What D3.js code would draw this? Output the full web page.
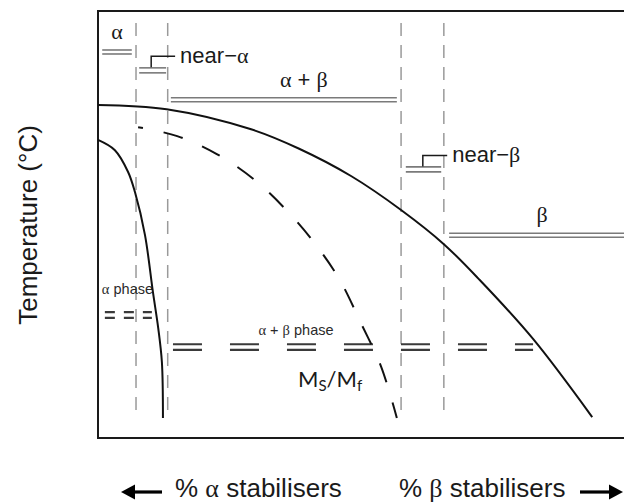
<!DOCTYPE html>
<html>
<head>
<meta charset="utf-8">
<script src="https://cdn.jsdelivr.net/npm/d3@7"></script>
<style>
  body { margin: 0; background: #fff; }
  svg { display: block; }
</style>
</head>
<body>
<svg id="chart" width="624" height="504"></svg>
<script>
// Composition axis: 0 = pure α-stabilised, 100 = heavily β-stabilised (relative units)
// Temperature axis: relative units, 0 = room temperature, 100 = top of frame

// β transus (upper solid curve)
const betaTransusX = [0, 13, 29, 38, 48, 57.4, 65.5, 72.3, 82.4, 93.6];
const betaTransusT = [78, 77.0, 72.3, 67.8, 61.3, 53.4, 45.4, 37.0, 23.2, 4.9];

// α transus (left solid curve)
const alphaTransusX = [0, 3.2, 5.7, 7.0, 8.9, 10.4, 11.4, 12.1, 12.3];
const alphaTransusT = [69.8, 67.4, 62.3, 57.6, 47.5, 34.2, 25.8, 17.8, 4.7];

// martensite start / finish (dashed curve)
const msMfX = [7.6, 15.0, 22.5, 29.7, 35.8, 41.3, 45.8, 49.8, 53.6, 56.6];
const msMfT = [72.8, 70.7, 66.5, 60.4, 53.2, 45.2, 37.0, 26.9, 16.8, 4.7];

// alloy class boundaries (grey dashed verticals)
const classBoundaries = [7.2, 13.2, 57.4, 65.5];
const boundaryTop = 97.2;
const boundaryBottom = 4.7;

// alloy class ranges (grey double bars)
const classNames = ["α", "near−α", "α + β", "near−β", "β"];
const classStart = [0.8, 7.8, 13.8, 58.3, 66.5];
const classEnd   = [6.4, 12.9, 56.6, 65.0, 100];
const classLevel = [90.4, 86.1, 79.2, 62.9, 47.5];

// phases present at low temperature (dashed double bars)
const phaseNames = ["α phase", "α + β phase"];
const phaseStart = [1.3, 14.2];
const phaseEnd   = [10.2, 82.4];
const phaseLevel = [28.8, 21.3];

// axis titles
const yTitle = "Temperature (°C)";
const xTitleLeft = "% α stabilisers";
const xTitleRight = "% β stabilisers";

// ---------------------------------------------------------------
const svg = d3.select("#chart");
const W = 624, H = 504;
const frame = { left: 98, top: 11, right: 626, bottom: 438 };

const x = d3.scaleLinear().domain([0, 100]).range([frame.left, frame.right]);
const y = d3.scaleLinear().domain([0, 100]).range([frame.bottom, frame.top]);

const SANS = "'Liberation Sans', Arial, Helvetica, sans-serif";
const SERIF = "'Liberation Serif', 'Times New Roman', serif";
const INK = "#1a1a1a";

// writes a string into a text node, setting Greek letters in a serif face
function richText(sel, str) {
  const parts = str.split(/([αβ])/).filter(s => s.length);
  parts.forEach(p => {
    const t = sel.append("tspan").text(p);
    if (/[αβ]/.test(p)) t.attr("font-family", SERIF);
  });
  return sel;
}

// frame
svg.append("rect")
  .attr("x", frame.left).attr("y", frame.top)
  .attr("width", frame.right - frame.left)
  .attr("height", frame.bottom - frame.top)
  .attr("fill", "none").attr("stroke", INK).attr("stroke-width", 2);

// class boundaries
svg.append("g").selectAll("line")
  .data(classBoundaries).join("line")
  .attr("x1", d => x(d)).attr("x2", d => x(d))
  .attr("y1", y(boundaryTop)).attr("y2", y(boundaryBottom))
  .attr("stroke", "#9a9a9a").attr("stroke-width", 1.5)
  .attr("stroke-dasharray", "13,9");

// double bar helper
function doubleBar(g, x1, x2, yc, gap, color, width, dash) {
  [-gap, gap].forEach(off => {
    const l = g.append("line")
      .attr("x1", x1).attr("x2", x2)
      .attr("y1", yc + off).attr("y2", yc + off)
      .attr("stroke", color).attr("stroke-width", width);
    if (dash) l.attr("stroke-dasharray", dash);
  });
}

// class range bars
const classG = svg.append("g");
classNames.forEach((name, i) => {
  const gap = i === 1 || i === 3 ? 2.5 : 2;
  doubleBar(classG, x(classStart[i]), x(classEnd[i]), y(classLevel[i]), gap, "#7a7a7a", 1.6);
});

// labels for the wide classes sit above their bars
const aboveLabelDx = { 0: 0, 2: 20, 4: 4.5 };
Object.keys(aboveLabelDx).forEach(k => {
  const i = +k;
  const cx = (x(classStart[i]) + x(classEnd[i])) / 2 + aboveLabelDx[k];
  richText(svg.append("text")
    .attr("x", cx)
    .attr("y", y(classLevel[i]) - 13)
    .attr("text-anchor", "middle")
    .attr("font-family", SANS).attr("font-size", 22).attr("fill", INK), classNames[i]);
});

// narrow classes get a leader line out to the label
[1, 3].forEach(i => {
  const xs = x(classStart[i]), xe = x(classEnd[i]);
  const yb = y(classLevel[i]) - 3;
  const lx = xs + (i === 1 ? 12 : 17);
  const ly = yb - 11;
  const ex = xe + (i === 1 ? 9 : 6);
  svg.append("path")
    .attr("d", `M${lx},${yb} V${ly} H${ex}`)
    .attr("fill", "none").attr("stroke", INK).attr("stroke-width", 1.5);
  richText(svg.append("text")
    .attr("x", ex + 5).attr("y", ly + 7)
    .attr("font-family", SANS).attr("font-size", 22).attr("fill", INK), classNames[i]);
});

// low-temperature phase bars
const phaseG = svg.append("g");
phaseNames.forEach((name, i) => {
  doubleBar(phaseG, x(phaseStart[i]), x(phaseEnd[i]), y(phaseLevel[i]), 2.8,
            "#3a3a3a", 2.2, i === 0 ? "10,9" : "29,28");
});
richText(svg.append("text")
  .attr("x", x(phaseStart[0]) - 3).attr("y", y(phaseLevel[0]) - 21)
  .attr("font-family", SANS).attr("font-size", 14.5).attr("fill", "#2a2a2a"), phaseNames[0]);
richText(svg.append("text")
  .attr("x", 296).attr("y", y(phaseLevel[1]) - 12)
  .attr("text-anchor", "middle")
  .attr("font-family", SANS).attr("font-size", 14.5).attr("fill", "#2a2a2a"), phaseNames[1]);

// curves
const line = d3.line().x(d => x(d[0])).y(d => y(d[1])).curve(d3.curveCatmullRom.alpha(0.5));

svg.append("path")
  .datum(betaTransusX.map((v, i) => [v, betaTransusT[i]]))
  .attr("d", line)
  .attr("fill", "none").attr("stroke", "#111").attr("stroke-width", 2);

svg.append("path")
  .datum(alphaTransusX.map((v, i) => [v, alphaTransusT[i]]))
  .attr("d", line)
  .attr("fill", "none").attr("stroke", "#111").attr("stroke-width", 2);

svg.append("path")
  .datum(msMfX.map((v, i) => [v, msMfT[i]]))
  .attr("d", line)
  .attr("fill", "none").attr("stroke", "#111").attr("stroke-width", 2)
  .attr("stroke-dasharray", "20,21").attr("stroke-dashoffset", 15);

// Ms/Mf label
const ms = svg.append("text")
  .attr("x", 298).attr("y", 387)
  .attr("font-family", "Lato, 'Open Sans', sans-serif").attr("font-size", 22).attr("fill", INK);
ms.append("tspan").text("M");
ms.append("tspan").text("S").attr("font-size", 15).attr("dy", 4);
ms.append("tspan").text("/M").attr("dy", -4);
ms.append("tspan").text("f").attr("font-size", 15).attr("dy", 4);

// axis titles
svg.append("text")
  .attr("transform", `translate(37,225) rotate(-90)`)
  .attr("text-anchor", "middle")
  .attr("font-family", SANS).attr("font-size", 26).attr("fill", INK)
  .text(yTitle);

richText(svg.append("text")
  .attr("x", 175).attr("y", 497)
  .attr("font-family", SANS).attr("font-size", 26).attr("fill", INK), xTitleLeft);
richText(svg.append("text")
  .attr("x", 399).attr("y", 497)
  .attr("font-family", SANS).attr("font-size", 26).attr("fill", INK), xTitleRight);

// direction arrows
function arrow(x0, x1, yc) {
  const dir = Math.sign(x1 - x0);
  const head = 14, half = 7.5;
  svg.append("line")
    .attr("x1", x0).attr("x2", x1 - dir * head + dir * 1).attr("y1", yc).attr("y2", yc)
    .attr("stroke", "#000").attr("stroke-width", 3.2);
  svg.append("path")
    .attr("d", `M${x1},${yc} L${x1 - dir * head},${yc - half} L${x1 - dir * head},${yc + half} Z`)
    .attr("fill", "#000");
}
arrow(162, 121, 492);
arrow(580, 623, 492);
</script>
</body>
</html>
